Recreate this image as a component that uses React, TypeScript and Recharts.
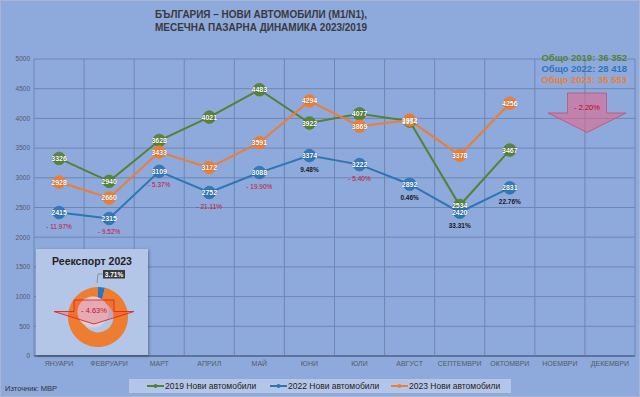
import React from 'react';
import { LineChart, Line, XAxis, YAxis, CartesianGrid, LabelList, PieChart, Pie, Cell } from 'recharts';

const months = ['ЯНУАРИ', 'ФЕВРУАРИ', 'МАРТ', 'АПРИЛ', 'МАЙ', 'ЮНИ', 'ЮЛИ', 'АВГУСТ', 'СЕПТЕМВРИ', 'ОКТОМВРИ', 'НОЕМВРИ', 'ДЕКЕМВРИ'];
const sales2019 = [3326, 2940, 3628, 4021, 4483, 3922, 4077, 3954, 2534, 3467, null, null];
const sales2022 = [2415, 2315, 3109, 2752, 3088, 3374, 3222, 2892, 2420, 2831, null, null];
const sales2023 = [2928, 2660, 3433, 3172, 3591, 4294, 3869, 3972, 3378, 4256, null, null];
const changeLabels = ['- 11.97%', '- 9.52%', '- 5.37%', '- 21.11%', '- 19.90%', '9.48%', '- 5.40%', '0.46%', '33.31%', '22.76%', null, null];
const yTicks = [0, 500, 1000, 1500, 2000, 2500, 3000, 3500, 4000, 4500, 5000];
const seriesNames = ['2019 Нови автомобили', '2022 Нови автомобили', '2023 Нови автомобили'];
const totalLabels = ['Общо 2019: 36 352', 'Общо 2022: 28 418', 'Общо 2023: 35 553'];
const totalChange = '- 2.20%';
const reexportTitle = 'Реекспорт 2023';
const reexportShares = [3.71, 96.29];
const reexportLabel = '3.71%';
const reexportChange = '- 4.63%';
const titleLines = ['БЪЛГАРИЯ – НОВИ АВТОМОБИЛИ (M1/N1),', 'МЕСЕЧНА ПАЗАРНА ДИНАМИКА  2023/2019'];
const sourceText = 'Източник: МВР';

const GREEN = '#548235';
const BLUE = '#2E75B6';
const ORANGE = '#ED7D31';
const COLORS = [GREEN, BLUE, ORANGE];
const BG = '#8EA9DB';
const FONT = '"Liberation Sans", Arial, sans-serif';

const data = months.map((m, i) => ({
  month: m,
  y2019: sales2019[i],
  y2022: sales2022[i],
  y2023: sales2023[i],
  chg: changeLabels[i],
}));

const makeDot = (color: string, id: string) => (props: any) => {
  const { cx, cy, index } = props;
  if (cx == null || cy == null || props.value == null) return <g key={`d-${id}-${index}`} />;
  return (
    <g key={`d-${id}-${index}`}>
      <defs>
        <radialGradient id={`grad-${id}`} cx="45%" cy="40%" r="60%">
          <stop offset="0%" stopColor={color} stopOpacity={0.85} />
          <stop offset="100%" stopColor={color} stopOpacity={1} />
        </radialGradient>
      </defs>
      <circle cx={cx} cy={cy} r={6.3} fill={`url(#grad-${id})`} stroke={color} strokeWidth={0.8} />
    </g>
  );
};

const valueLabel = (props: any) => {
  const { x, y, value, index } = props;
  if (value == null || x == null || y == null) return null;
  return (
    <text
      key={`vl-${index}`}
      x={x}
      y={y + 2.5}
      textAnchor="middle"
      fontFamily={FONT}
      fontSize={7}
      fontWeight="bold"
      fill="#ffffff"
      stroke="rgba(0,0,0,0.35)"
      strokeWidth={0.6}
      paintOrder="stroke"
    >
      {value}
    </text>
  );
};

const changeLabel = (props: any) => {
  const { x, y, value, index } = props;
  if (value == null || x == null || y == null) return null;
  const neg = String(value).startsWith('-');
  return (
    <text
      key={`cl-${index}`}
      x={x}
      y={y + 16}
      textAnchor="middle"
      fontFamily={FONT}
      fontSize={6.5}
      fontWeight={neg ? 'normal' : 'bold'}
      fill={neg ? '#C8102E' : '#1a1a1a'}
    >
      {value}
    </text>
  );
};

const gridX = (args: any) => {
  const off = args.offset;
  const n = months.length;
  const out: number[] = [];
  for (let i = 0; i <= n; i++) out.push(off.left + (i * off.width) / n);
  return out;
};

export default function App() {
  return (
    <div
      style={{
        position: 'absolute',
        left: 0,
        top: 0,
        width: 640,
        height: 397,
        background: BG,
        fontFamily: FONT,
        overflow: 'hidden',
        boxSizing: 'border-box',
        border: '1px solid #A9B6CE',
      }}
    >
      <div style={{ position: 'absolute', left: -1, top: -1 }}>
        <LineChart width={640} height={397} data={data} margin={{ top: 59, right: 5, left: 0, bottom: 11 }}>
          <CartesianGrid
            stroke="#6F86B2"
            strokeWidth={1}
            verticalCoordinatesGenerator={gridX}
          />
          <XAxis
            dataKey="month"
            scale="band"
            height={30}
            tickLine={false}
            tickSize={0}
            tickMargin={5}
            axisLine={{ stroke: '#56698F', strokeWidth: 1.5 }}
            interval={0}
            tick={{ fontSize: 7, fill: '#555a66', fontFamily: FONT }}
          />
          <YAxis
            width={34}
            domain={[0, 5000]}
            ticks={yTicks}
            tickLine={false}
            tickSize={0}
            tickMargin={4}
            axisLine={false}
            tick={{ fontSize: 6.5, fill: '#555a66', fontFamily: FONT }}
          />
          <Line
            dataKey="y2019"
            name={seriesNames[0]}
            stroke={GREEN}
            strokeWidth={2}
            dot={makeDot(GREEN, 'g')}
            activeDot={false}
            isAnimationActive={false}
          >
            <LabelList dataKey="y2019" content={valueLabel} />
          </Line>
          <Line
            dataKey="y2022"
            name={seriesNames[1]}
            stroke={BLUE}
            strokeWidth={2}
            dot={makeDot(BLUE, 'b')}
            activeDot={false}
            isAnimationActive={false}
          >
            <LabelList dataKey="y2022" content={valueLabel} />
            <LabelList dataKey="chg" content={changeLabel} />
          </Line>
          <Line
            dataKey="y2023"
            name={seriesNames[2]}
            stroke={ORANGE}
            strokeWidth={2}
            dot={makeDot(ORANGE, 'o')}
            activeDot={false}
            isAnimationActive={false}
          >
            <LabelList dataKey="y2023" content={valueLabel} />
          </Line>
        </LineChart>
      </div>

      {/* title, totals, arrow, source */}
      <svg width={640} height={397} style={{ position: 'absolute', left: -1, top: -1, pointerEvents: 'none' }}>
        {titleLines.map((t, i) => (
          <text
            key={t}
            x={261}
            y={17.5 + i * 13.5}
            textAnchor="middle"
            fontFamily={FONT}
            fontSize={10.5}
            fontWeight="bold"
            fill="#3a3a3a"
            textLength={212}
            lengthAdjust="spacingAndGlyphs"
          >
            {t}
          </text>
        ))}
        {totalLabels.map((t, i) => (
          <text
            key={t}
            x={627}
            y={61 + i * 11}
            textAnchor="end"
            fontFamily={FONT}
            fontSize={9.5}
            fontWeight="bold"
            fill={COLORS[i]}
          >
            {t}
          </text>
        ))}
        <polygon
          points="567.5,93 606.5,93 606.5,113 626,113 587,132.5 548,113 567.5,113"
          fill="rgba(232,100,135,0.55)"
          stroke="#C0506E"
          strokeWidth={0.8}
        />
        <text x={587} y={110} textAnchor="middle" fontFamily={FONT} fontSize={7.5} fill="#C00020">
          {totalChange}
        </text>
        <text x={5} y={391} fontFamily={FONT} fontSize={7.5} fill="#333">
          {sourceText}
        </text>
      </svg>

      {/* legend */}
      <div
        style={{
          position: 'absolute',
          left: 128,
          top: 378,
          width: 382,
          height: 14,
          background: '#B4C6E7',
        }}
      >
        <svg width={382} height={14}>
          {seriesNames.map((n, i) => {
            const x0 = [18, 141, 262][i];
            return (
              <g key={n}>
                <line x1={x0} y1={7} x2={x0 + 17} y2={7} stroke={COLORS[i]} strokeWidth={2} />
                <circle cx={x0 + 8.5} cy={7} r={2} fill={COLORS[i]} />
                <text x={x0 + 18} y={10} fontFamily={FONT} fontSize={8.5} fill="#2a1a1a">
                  {n}
                </text>
              </g>
            );
          })}
        </svg>
      </div>

      {/* reexport inset */}
      <div
        style={{
          position: 'absolute',
          left: 35,
          top: 248,
          width: 112,
          height: 106,
          background: '#B4C6E7',
          boxShadow: '1px 1px 3px rgba(0,0,0,0.35)',
        }}
      >
        <div style={{ position: 'absolute', left: 0, top: 0 }}>
          <PieChart width={112} height={106}>
            <Pie
              data={reexportShares.map((v, i) => ({ name: i === 0 ? 'Реекспорт' : 'Други', value: v }))}
              dataKey="value"
              cx={57}
              cy={63}
              innerRadius={15.5}
              outerRadius={30}
              startAngle={90}
              endAngle={-270}
              stroke="none"
              isAnimationActive={false}
            >
              <Cell fill={BLUE} />
              <Cell fill={ORANGE} />
            </Pie>
          </PieChart>
        </div>
        <svg width={112} height={106} style={{ position: 'absolute', left: 0, top: 0 }}>
          <circle cx={57} cy={63} r={15.5} fill="#DCCDE0" />
          <text x={56} y={16} textAnchor="middle" fontFamily={FONT} fontSize={10.5} fontWeight="bold" fill="#222">
            {reexportTitle}
          </text>
          <polygon
            points="38,51 78,51 78,62.5 98,62.5 58,75 18,62.5 38,62.5"
            fill="rgba(255,70,50,0.25)"
            stroke="#E02818"
            strokeWidth={0.9}
          />
          <polyline points="67,25 62,25 61,34" fill="none" stroke="#7a7a7a" strokeWidth={0.7} />
          <rect x={67} y={21} width={22} height={8.5} fill="#3a3a3a" />
          <text x={78} y={27.7} textAnchor="middle" fontFamily={FONT} fontSize={6.5} fontWeight="bold" fill="#fff">
            {reexportLabel}
          </text>
          <text x={58} y={63.5} textAnchor="middle" fontFamily={FONT} fontSize={7.5} fill="#C8102E">
            {reexportChange}
          </text>
        </svg>
      </div>
    </div>
  );
}
